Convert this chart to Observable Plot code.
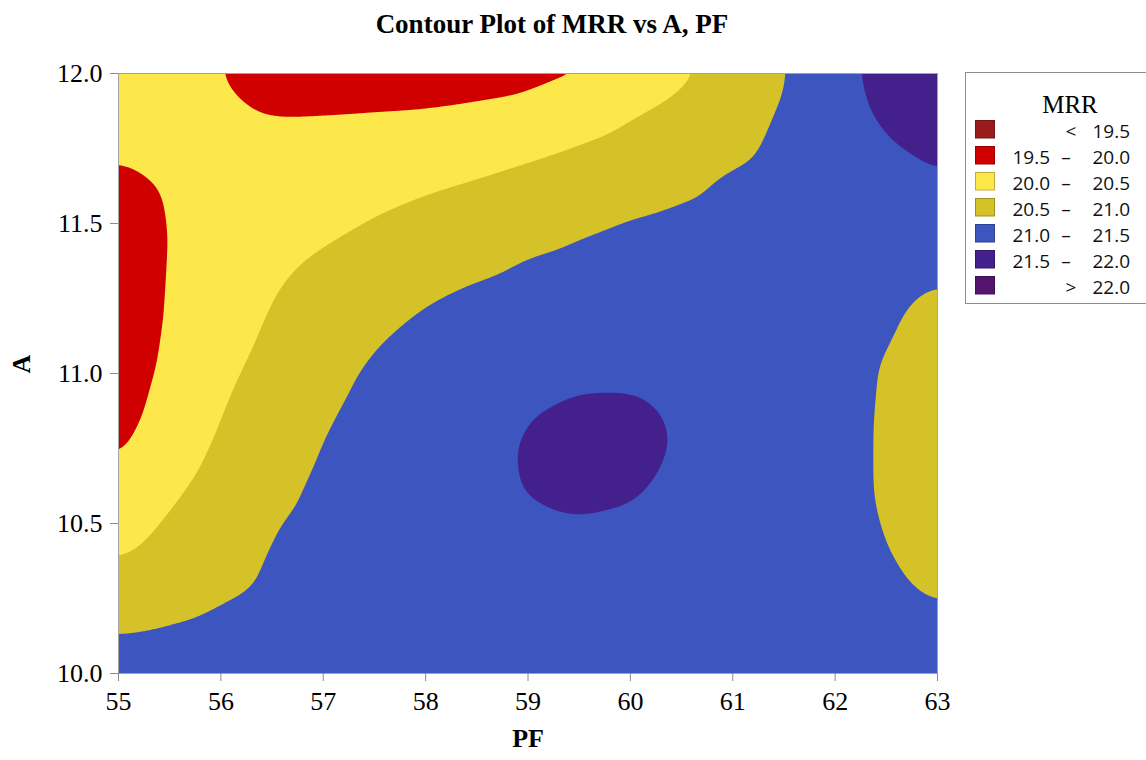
<!DOCTYPE html>
<html><head><meta charset="utf-8">
<script src="https://cdn.jsdelivr.net/npm/d3@7"></script>
<script src="https://cdn.jsdelivr.net/npm/@observablehq/plot@0.6"></script>
<style>
html,body{margin:0;padding:0;background:#fff;}
#wrap{position:relative;width:1146px;height:760px;overflow:hidden;background:#fff;}
#wrap svg{position:absolute;left:0;top:0;}
</style></head><body>
<div id="wrap"></div>
<script>
// ---- data ----
const chartTitle = "Contour Plot of MRR vs A, PF";
const xLabel = "PF";
const yLabel = "A";
const legendTitle = "MRR";
const PF = [55, 55.5, 56, 56.5, 57, 57.5, 58, 58.5, 59, 59.5, 60, 60.5, 61, 61.5, 62, 62.5, 63];
const A = [12, 11.875, 11.75, 11.625, 11.5, 11.375, 11.25, 11.125, 11, 10.875, 10.75, 10.625, 10.5, 10.375, 10.25, 10.125, 10];
// MRR estimated at each (A row, PF column)
const MRR = [
  [20.15, 20.08, 20.01, 19.85, 19.83, 19.84, 19.85, 19.87, 19.89, 19.95, 20.19, 20.42, 20.68, 20.98, 21.34, 21.67, 21.97],
  [20.09, 20.07, 20.07, 19.98, 19.98, 19.99, 20.00, 20.04, 20.11, 20.27, 20.46, 20.62, 20.83, 21.04, 21.30, 21.60, 21.75],
  [20.03, 20.07, 20.12, 20.11, 20.14, 20.18, 20.24, 20.32, 20.42, 20.53, 20.64, 20.76, 20.91, 21.09, 21.29, 21.45, 21.60],
  [19.95, 20.02, 20.16, 20.24, 20.29, 20.37, 20.46, 20.54, 20.63, 20.73, 20.84, 20.94, 21.08, 21.14, 21.28, 21.37, 21.43],
  [19.87, 20.01, 20.13, 20.27, 20.40, 20.53, 20.63, 20.73, 20.84, 20.95, 21.03, 21.08, 21.10, 21.16, 21.25, 21.27, 21.26],
  [19.84, 20.01, 20.20, 20.42, 20.56, 20.67, 20.79, 20.91, 21.02, 21.075, 21.12, 21.13, 21.16, 21.20, 21.20, 21.16, 21.09],
  [19.82, 20.02, 20.26, 20.50, 20.66, 20.82, 20.98, 21.075, 21.13, 21.19, 21.22, 21.22, 21.21, 21.19, 21.15, 21.06, 20.95],
  [19.77, 20.05, 20.32, 20.57, 20.77, 20.97, 21.09, 21.17, 21.26, 21.31, 21.33, 21.31, 21.27, 21.20, 21.10, 21.02, 20.89],
  [19.78, 20.09, 20.41, 20.65, 20.89, 21.06, 21.16, 21.27, 21.38, 21.445, 21.45, 21.40, 21.30, 21.20, 21.10, 20.98, 20.84],
  [19.82, 20.17, 20.49, 20.73, 20.96, 21.10, 21.23, 21.37, 21.49, 21.55, 21.55, 21.46, 21.34, 21.22, 21.10, 20.97, 20.83],
  [19.94, 20.29, 20.57, 20.80, 21.02, 21.14, 21.27, 21.41, 21.53, 21.61, 21.60, 21.47, 21.34, 21.22, 21.09, 20.97, 20.82],
  [20.14, 20.42, 20.65, 20.90, 21.07, 21.16, 21.27, 21.40, 21.52, 21.58, 21.54, 21.44, 21.33, 21.21, 21.09, 20.97, 20.83],
  [20.31, 20.55, 20.75, 20.99, 21.09, 21.16, 21.26, 21.38, 21.45, 21.48, 21.46, 21.40, 21.31, 21.21, 21.09, 20.99, 20.86],
  [20.50, 20.68, 20.85, 21.04, 21.10, 21.17, 21.25, 21.33, 21.40, 21.42, 21.41, 21.34, 21.28, 21.20, 21.10, 21.02, 20.92],
  [20.77, 20.87, 20.985, 21.07, 21.12, 21.18, 21.25, 21.32, 21.36, 21.37, 21.36, 21.33, 21.27, 21.21, 21.14, 21.06, 20.99],
  [21.02, 21.06, 21.11, 21.15, 21.19, 21.23, 21.27, 21.30, 21.33, 21.33, 21.33, 21.31, 21.27, 21.22, 21.17, 21.11, 21.08],
  [21.17, 21.18, 21.20, 21.22, 21.24, 21.27, 21.29, 21.31, 21.32, 21.32, 21.32, 21.30, 21.27, 21.24, 21.20, 21.17, 21.15]
];
const bandBreaks = [19.5, 20.0, 20.5, 21.0, 21.5, 22.0];
const contourLevels = [19.0, 19.5, 20.0, 20.5, 21.0, 21.5, 22.0];
const bandColors = ["#9a1b1b", "#d10000", "#fde84c", "#d5c128", "#3d56bf", "#44208d", "#54166d"];
const legendLow  = ["", "19.5", "20.0", "20.5", "21.0", "21.5", ""];
const legendSign = ["<", "\u2013", "\u2013", "\u2013", "\u2013", "\u2013", ">"];
const legendHigh = ["19.5", "20.0", "20.5", "21.0", "21.5", "22.0", "22.0"];
const xTicks = [55, 56, 57, 58, 59, 60, 61, 62, 63];
const yTicks = [10.0, 10.5, 11.0, 11.5, 12.0];

// ---- build table ----
const points = [];
A.forEach((a, j) => PF.forEach((p, i) => points.push({pf: p, a: a, mrr: MRR[j][i]})));

const serif = '"Liberation Serif","Times New Roman",serif';
const sans = '"Open Sans","Noto Sans","DejaVu Sans",sans-serif';

const plot = Plot.plot({
  width: 1146, height: 760,
  marginLeft: 118, marginRight: 209, marginTop: 73, marginBottom: 87,
  style: {fontFamily: serif, fontSize: "26px", background: "transparent", color: "#000"},
  x: {domain: [55, 63], label: null},
  y: {domain: [10, 12], label: null},
  color: {type: "threshold", domain: bandBreaks, range: bandColors},
  marks: [
    Plot.contour(points, {x: "pf", y: "a", fill: "mrr", thresholds: contourLevels,
      interpolate: "barycentric", pixelSize: 1, blur: 12, stroke: "none"}),
    Plot.frame({stroke: "#a3a3a3"}),
    Plot.axisX({ticks: xTicks, tickFormat: d3.format("d"), tickSize: 8, tickPadding: 10, stroke: "#8a8a8a", fill: "#000", label: null}),
    Plot.axisY({ticks: yTicks, tickFormat: d3.format(".1f"), tickSize: 8, tickPadding: 8, stroke: "#8a8a8a", fill: "#000", label: null}),
    Plot.text([xLabel], {frameAnchor: "bottom", dy: 73, text: d => d, fontWeight: "bold", fontSize: 26}),
    Plot.text([yLabel], {frameAnchor: "left", dx: -97, rotate: -90, text: d => d, fontWeight: "bold", fontSize: 26})
  ]
});
document.getElementById("wrap").appendChild(plot);

// ---- overlay: title and legend ----
const ov = d3.select("#wrap").append("svg").attr("width", 1146).attr("height", 760);
ov.append("text").attr("x", 552).attr("y", 33).attr("text-anchor", "middle")
  .attr("font-family", serif).attr("font-weight", "bold").attr("font-size", 27).text(chartTitle);

const lg = ov.append("g");
lg.append("rect").attr("x", 965.5).attr("y", 72.5).attr("width", 200).attr("height", 231)
  .attr("fill", "#fff").attr("stroke", "#8c8c8c");
lg.append("text").attr("x", 1070).attr("y", 113).attr("text-anchor", "middle")
  .attr("font-family", serif).attr("font-size", 25).text(legendTitle);
bandColors.forEach((c, i) => {
  const top = 120 + 26 * i;
  lg.append("rect").attr("x", 975.5).attr("y", top + 0.5).attr("width", 19).attr("height", 17.5)
    .attr("fill", c).attr("stroke", d3.color(c).darker(0.8)).attr("stroke-width", 1);
  const base = top + 18;
  const t = lg.append("g").attr("font-family", sans).attr("font-size", 19).attr("fill", "#111");
  t.append("text").attr("x", 1050).attr("y", base).attr("text-anchor", "end").text(legendLow[i]);
  t.append("text").attr("x", legendLow[i] ? 1066 : 1071).attr("y", base).attr("text-anchor", "middle").text(legendSign[i]);
  t.append("text").attr("x", 1130).attr("y", base).attr("text-anchor", "end").text(legendHigh[i]);
});
</script>
</body></html>
